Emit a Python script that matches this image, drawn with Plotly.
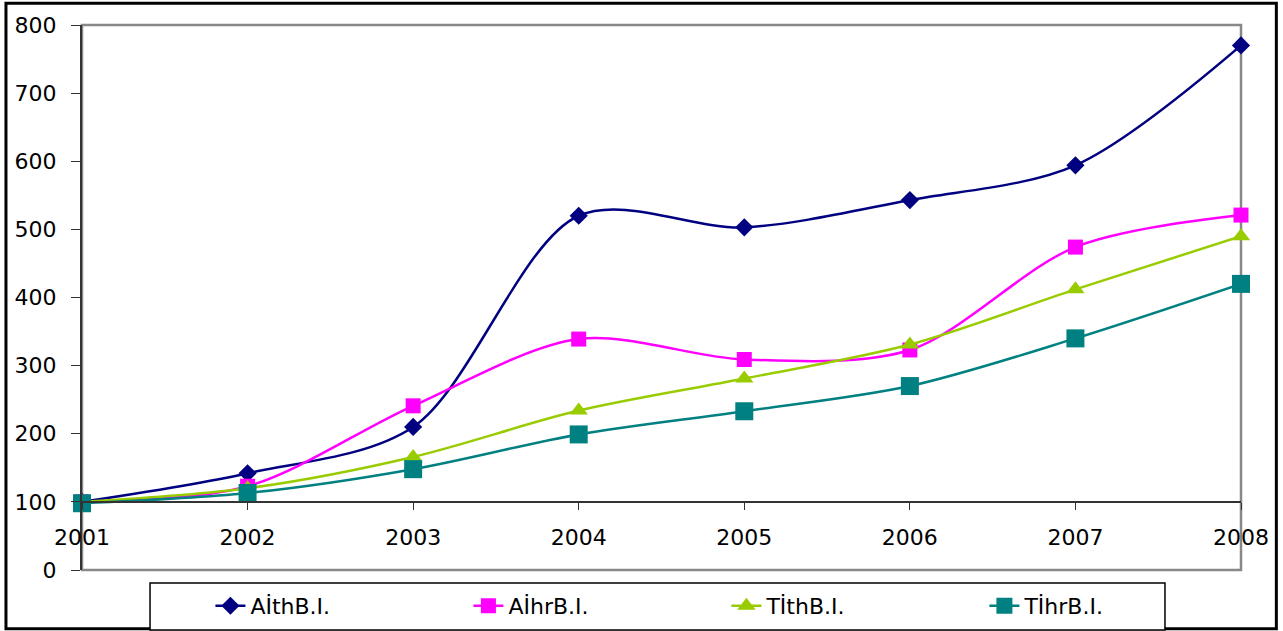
import plotly.graph_objects as go

years = [2001, 2002, 2003, 2004, 2005, 2006, 2007, 2008]
aith = [100, 142, 210, 520, 503, 543, 594, 770]
aihr = [100, 123, 241, 339, 309, 323, 474, 521]
tith = [100, 120, 166, 234, 281, 331, 412, 490]
tihr = [98, 113, 148, 199, 233, 270, 340, 420]
names = ["AİthB.I.", "AİhrB.I.", "TİthB.I.", "TİhrB.I."]
y_ticks = [0, 100, 200, 300, 400, 500, 600, 700, 800]

series = [aith, aihr, tith, tihr]
colors = ["#000080", "#FF00FF", "#99CC00", "#008080"]
symbols = ["diamond", "square", "triangle-up", "square"]
sizes = [14, 15, 16, 18]

FONT = "DejaVu Sans, Arial, sans-serif"

fig = go.Figure()
for nm, vals, c, s, sz in zip(names, series, colors, symbols, sizes):
    fig.add_trace(go.Scatter(
        x=years, y=vals, name=nm, mode="lines+markers",
        line=dict(color=c, width=2.5, shape="spline", smoothing=0.9),
        marker=dict(color=c, symbol=s, size=sz),
        cliponaxis=False,
    ))

# plot-area border (gray)
fig.add_shape(type="rect", xref="paper", yref="paper", x0=0, x1=1, y0=0, y1=1,
              line=dict(color="#888888", width=2.5), layer="below")
# outer chart frame (black)
fig.add_shape(type="rect", xref="paper", yref="paper",
              x0=-0.0656, x1=1.0305, y0=-0.108, y1=1.04,
              line=dict(color="black", width=3), layer="below")
# legend box
fig.add_shape(type="rect", xref="paper", yref="paper",
              x0=0.0587, x1=0.9344, y0=-0.11, y1=-0.0239,
              line=dict(color="black", width=1.5), fillcolor="white", layer="below")

fig.update_layout(
    width=1283, height=631,
    margin=dict(l=82, r=42, t=25, b=61, autoexpand=False),
    paper_bgcolor="white", plot_bgcolor="white",
    font=dict(family=FONT, size=22, color="black"),
    showlegend=True,
    legend=dict(
        orientation="h", x=0.1108, y=-0.066, xanchor="left", yanchor="middle",
        borderwidth=0, bgcolor="rgba(0,0,0,0)",
        font=dict(family=FONT, size=22, color="black"),
        entrywidth=213, entrywidthmode="pixels",
        itemsizing="trace", tracegroupgap=0,
    ),
    xaxis=dict(
        range=[2001, 2008], tickvals=years, ticktext=[str(v) for v in years],
        anchor="free", position=0.125,
        showline=True, linecolor="#333333", linewidth=1.5,
        ticks="outside", ticklen=7, tickcolor="#333333",
        showgrid=False, zeroline=False,
        ticklabelstandoff=9,
        tickfont=dict(family=FONT, size=22),
    ),
    yaxis=dict(
        range=[0, 800], tickvals=y_ticks, domain=[0, 1],
        showline=True, linecolor="#333333", linewidth=2,
        ticks="outside", ticklen=9, tickcolor="#333333",
        showgrid=False, zeroline=False,
        ticklabelstandoff=10,
        tickfont=dict(family=FONT, size=22),
    ),
)

fig.write_html("out.html", config={"displayModeBar": False},
               post_script="document.body.style.margin='0';")
